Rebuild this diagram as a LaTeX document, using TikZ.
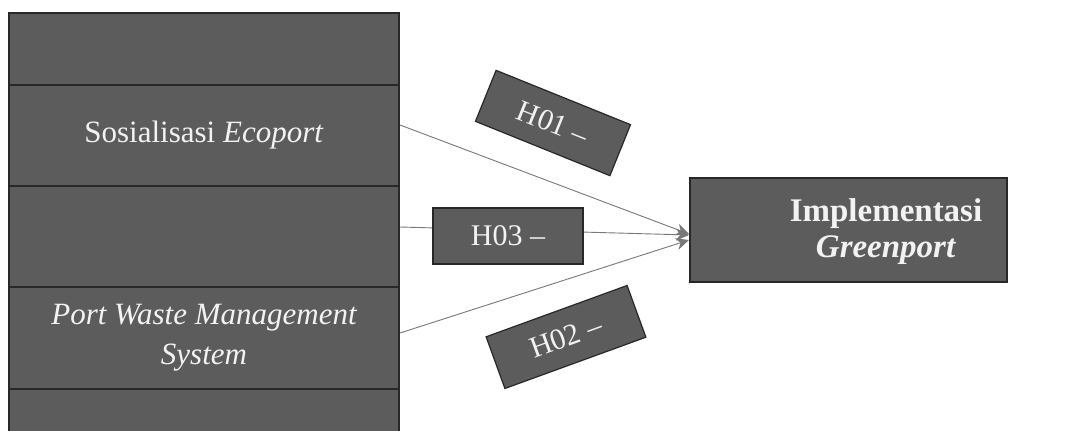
\documentclass[tikz,border=0pt]{standalone}
\usepackage{fontspec}
\setmainfont{Liberation Serif}
\usetikzlibrary{arrows.meta}
\definecolor{boxfill}{RGB}{92,92,92}
\definecolor{boxedge}{RGB}{40,40,40}
\definecolor{txt}{RGB}{242,242,242}
\definecolor{linec}{RGB}{120,120,120}
\tikzset{
  dbox/.style={draw=boxedge, fill=boxfill, line width=1.2pt, inner sep=0pt, text=txt, align=center},
  conn/.style={draw=linec, line width=0.9pt, -{Stealth[length=13pt,width=12pt,fill=linec]}},
  lbl/.style={text=txt, inner sep=0pt, align=center}
}
\begin{document}
\begin{tikzpicture}[x=1pt,y=-1pt]
\clip (0,0) rectangle (1071,431);
\fill[white] (0,0) rectangle (1071,431);
% left stacked box
\node[dbox, minimum width=390pt, minimum height=72pt] (s1) at (204,49) {};
\node[dbox, minimum width=390pt, minimum height=101pt, font=\fontsize{31}{38}\selectfont] (s2) at (204,135.5) {Sosialisasi \textit{Ecoport}};
\node[dbox, minimum width=390pt, minimum height=101pt] (s3) at (204,236.5) {};
\node[dbox, minimum width=390pt, minimum height=102pt, font=\fontsize{31}{40}\selectfont\itshape] (s4) at (204,338) {Port Waste Management\\System};
\node[dbox, minimum width=390pt, minimum height=60pt] (s5) at (204,419) {};
% target box
\node[dbox, minimum width=317pt, minimum height=104pt] (impl) at (848.5,230) {};
\node[lbl, font=\fontsize{33}{36}\selectfont\bfseries] (implt) at (886,232) {Implementasi\\\textit{Greenport}};
\coordinate (tgt) at (689,234);
% start points
\coordinate (a1) at (400,125);
\coordinate (a3) at (400,227);
\coordinate (a2) at (400,333);
\draw[conn] (a1) -- (tgt);
\draw[conn] (a3) -- ([yshift=-1pt]tgt);
\draw[conn] (a2) -- ([yshift=-6pt]tgt);
% hypothesis labels
\node[dbox, minimum width=150pt, minimum height=56pt, font=\fontsize{30}{34}\selectfont] (h3) at (508,236) {H03 --};
\node[dbox, minimum width=145pt, minimum height=55pt, rotate=-22, font=\fontsize{30}{34}\selectfont] (h1) at (553,123) {H01 --};
\node[dbox, minimum width=150pt, minimum height=55pt, rotate=20, font=\fontsize{30}{34}\selectfont] (h2) at (566,337) {H02 --};
\end{tikzpicture}
\end{document}
